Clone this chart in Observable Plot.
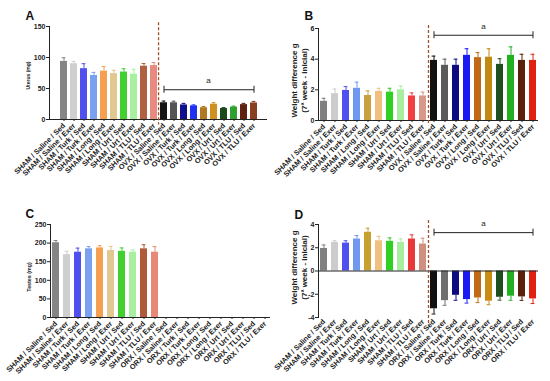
<!DOCTYPE html>
<html><head><meta charset="utf-8">
<script src="https://cdn.jsdelivr.net/npm/d3@7"></script>
<script src="https://cdn.jsdelivr.net/npm/@observablehq/plot@0.6"></script>
<style>
body{margin:0;background:#fff;}
#root{position:relative;width:550px;height:381px;overflow:hidden;}
.panel{position:absolute;}
.panel svg{overflow:visible;}
</style></head><body><div id="root"></div>
<script>
// ---- categories ----
const shamLabels = ["SHAM / Saline / Sed","SHAM / Saline / Exer","SHAM / Turk / Sed","SHAM / Turk / Exer","SHAM / Long / Sed","SHAM / Long / Exer","SHAM / Urt / Sed","SHAM / Urt / Exer","SHAM / TLU / Sed","SHAM / TLU / Exer"];
const ovxLabels = ["OVX / Saline / Sed","OVX / Saline / Exer","OVX / Turk / Sed","OVX / Turk / Exer","OVX / Long / Sed","OVX / Long / Exer","OVX / Urt / Sed","OVX / Urt / Exer","OVX / TLU / Sed","OVX / TLU / Exer"];
const orxLabels = ["ORX / Saline / Sed","ORX / Saline / Exer","ORX / Turk / Sed","ORX / Turk / Exer","ORX / Long / Sed","ORX / Long / Exer","ORX / Urt / Sed","ORX / Urt / Exer","ORX / TLU / Sed","ORX / TLU / Exer"];
const femaleGroups = shamLabels.concat(ovxLabels);
const maleGroups = shamLabels.concat(orxLabels);

// ---- values ----
const uterusMean = [93.7, 90, 82, 71, 78, 74, 76.5, 73, 86, 87, 27, 27, 23.5, 22, 19, 24.6, 17.7, 20, 24, 26.7];
const uterusErr  = [6, 3.7, 8, 5, 7.5, 5.4, 5.4, 8, 4.3, 4.8, 2.7, 2.5, 2.5, 1.5, 2, 2.5, 1.5, 1.5, 2, 2.5];
const weightFMean = [1.25, 1.75, 1.96, 2.1, 1.63, 1.9, 1.85, 2.0, 1.6, 1.6, 3.92, 3.6, 3.6, 4.25, 4.1, 4.13, 3.66, 4.25, 3.92, 3.92];
const weightFErr  = [0.2, 0.3, 0.25, 0.4, 0.3, 0.2, 0.25, 0.25, 0.2, 0.25, 0.28, 0.4, 0.4, 0.43, 0.33, 0.55, 0.37, 0.55, 0.4, 0.4];
const testesMean = [201, 169, 175.5, 184.6, 187, 180, 178, 175.6, 184.6, 175.6, null, null, null, null, null, null, null, null, null, null];
const testesErr  = [6, 9, 11, 6, 6, 11, 9, 6, 11, 15, null, null, null, null, null, null, null, null, null, null];
const weightMMean = [1.94, 2.46, 2.4, 2.75, 3.33, 2.6, 2.55, 2.46, 2.75, 2.32, -3.25, -2.55, -2.09, -2.46, -2.32, -2.6, -2.26, -2.17, -2.23, -2.4];
const weightMErr  = [0.3, 0.15, 0.2, 0.3, 0.35, 0.38, 0.3, 0.3, 0.36, 0.5, 0.45, 0.4, 0.43, 0.3, 0.4, 0.3, 0.25, 0.35, 0.3, 0.4];

// ---- colours ----
const colorsA = ["#858585","#cfcfcf","#5050ee","#7aa0f0","#f5a050","#e0c890","#40d030","#a8f0a0","#b06040","#e88a80",
                 "#151515","#555555","#10108a","#2030f0","#b07820","#d09020","#1a4a1a","#30a030","#602010","#8a4020"];
const colorsB = ["#808080","#cccccc","#5050f0","#7098f0","#c8a040","#f0c080","#30d020","#a8eea0","#f04040","#d8988a",
                 "#111111","#5a5a5a","#0c0c80","#1a1af5","#c06818","#c08a10","#1f4f1f","#20b020","#5a200c","#e02010"];
const colorsC = ["#858585","#cfcfcf","#5050ee","#7aa0f0","#f5a050","#e0c890","#40d030","#a8f0a0","#b05a3a","#e88878",
                 "#000","#000","#000","#000","#000","#000","#000","#000","#000","#000"];
const colorsD = ["#808080","#cccccc","#5050f0","#7098f0","#c8a030","#f0c080","#30d020","#a8eea0","#e83838","#d09080",
                 "#111111","#6e6e6e","#0c0c80","#1a1af5","#c06a18","#c88c10","#1f4f1f","#20b020","#5a200c","#e02010"];

const titleA = "Uterus (mg)";
const titleB = "Weight difference g\n(7ª week - inicial)";
const titleC = "Testes (mg)";
const titleD = "Weight difference g\n(7ª week - inicial)";

function panel(o) {
  const W = 275;
  const rows = o.groups.map((g, i) => ({g, m: o.mean[i], e: o.err[i], c: o.colors[i]})).filter(d => d.m != null);
  const step = (W - o.ml - o.mr) / o.groups.length;
  const pxPerUnit = (o.height - o.mt - o.mb) / (o.yDomain[1] - o.yDomain[0]);
  const tip = d => d.m + Math.sign(d.m) * d.e;
  const marks = [
    Plot.barY(rows, {x: "g", y: "m", fill: "c"}),
    Plot.ruleX(rows, {x: "g", y1: "m", y2: tip, stroke: "c", strokeWidth: 1}),
    Plot.tickY(rows, {x: "g", y: tip, stroke: "c", strokeWidth: 1, insetLeft: 1.6, insetRight: 1.6}),
    Plot.ruleY([0], {stroke: "#222", strokeWidth: 1}),
    Plot.axisX({tickRotate: -45, tickSize: o.xTickSize, tickPadding: 3, fontSize: 7.3, fontWeight: "bold", label: null, fill: "#1a1a1a"}),
    Plot.text([o.title], {text: d => d, frameAnchor: "left", rotate: -90, dx: o.titleDx, dy: o.titleDy,
      fontSize: o.titleSize, fontWeight: "bold", lineHeight: 1.25, textAnchor: "middle", lineAnchor: "middle", fill: "#222"}),
    Plot.text([o.letter], {text: d => d, frameAnchor: "top-left", dx: o.letterDx, dy: o.letterDy,
      fontSize: 12, fontWeight: "bold", textAnchor: "start", lineAnchor: "middle", fill: "#111"})
  ];
  if (o.dash) {
    marks.push(Plot.ruleX([o.groups[10]], {x: d => d, y1: o.dash[0], y2: o.dash[1], dx: -step / 2,
      stroke: "#a0522d", strokeWidth: 1.3, strokeDasharray: "3,2"}));
  }
  if (o.bracket != null) {
    const b = [{a: o.groups[10], b: o.groups[19], y: o.bracket}];
    const cap = 3.5 / pxPerUnit;
    marks.push(Plot.link(b, {x1: "a", x2: "b", y1: "y", y2: "y", stroke: "#222", strokeWidth: 1}));
    marks.push(Plot.ruleX([o.groups[10], o.groups[19]], {x: d => d, y1: o.bracket - cap, y2: o.bracket + cap, stroke: "#222", strokeWidth: 1}));
    marks.push(Plot.text(["a"], {x: () => o.groups[15], y: () => o.bracket, dx: -step / 2, dy: -9, text: d => d,
      fontSize: 8, fontWeight: "normal", fill: "#222"}));
  }
  const svg = Plot.plot({
    width: W, height: o.height,
    marginLeft: o.ml, marginRight: o.mr, marginTop: o.mt, marginBottom: o.mb,
    style: {fontFamily: '"Liberation Sans", Arial, sans-serif', fontSize: "7px", fontWeight: "bold", color: "#222", background: "transparent"},
    color: {type: "identity"},
    x: {domain: o.groups, paddingInner: 0.32, paddingOuter: 0.16},
    y: {domain: o.yDomain, ticks: o.yTicks, tickSize: 3, tickPadding: 1, line: true, label: null, tickFormat: d => String(d)},
    marks
  });
  const div = document.createElement("div");
  div.className = "panel";
  div.style.left = o.left + "px";
  div.style.top = o.top + "px";
  div.appendChild(svg);
  document.getElementById("root").appendChild(div);
}

panel({groups: femaleGroups, mean: uterusMean, err: uterusErr, colors: colorsA, yDomain: [0, 150], yTicks: [0, 50, 100, 150],
  left: 0, top: 0, height: 190, ml: 49, mr: 8, mt: 26, mb: 71, xTickSize: 2,
  title: titleA, titleSize: 5, titleDx: -22, titleDy: 2.5, letter: "A", letterDx: -24, letterDy: -10,
  dash: [156, -9], bracket: 48});
panel({groups: femaleGroups, mean: weightFMean, err: weightFErr, colors: colorsB, yDomain: [0, 6], yTicks: [0, 2, 4, 6],
  left: 275, top: 0, height: 190, ml: 43, mr: 12, mt: 28, mb: 70, xTickSize: 2,
  title: titleB, titleSize: 8, titleDx: -20, titleDy: 6, letter: "B", letterDx: -14, letterDy: -12,
  dash: [6.2, -0.35], bracket: 5.56});
panel({groups: maleGroups, mean: testesMean, err: testesErr, colors: colorsC, yDomain: [0, 250], yTicks: [0, 50, 100, 150, 200, 250],
  left: 0, top: 190, height: 191, ml: 50, mr: 5, mt: 34, mb: 64, xTickSize: 2,
  title: titleC, titleSize: 5.3, titleDx: -22, titleDy: 6, letter: "C", letterDx: -25, letterDy: -10});
panel({groups: maleGroups, mean: weightMMean, err: weightMErr, colors: colorsD, yDomain: [-4, 4], yTicks: [-4, -2, 0, 2, 4],
  left: 275, top: 190, height: 191, ml: 43, mr: 12, mt: 34, mb: 64, xTickSize: 0,
  title: titleD, titleSize: 8, titleDx: -20, titleDy: -3.5, letter: "D", letterDx: -24, letterDy: -9,
  dash: [4.35, -4.6], bracket: 3.3});
</script>
</body></html>
